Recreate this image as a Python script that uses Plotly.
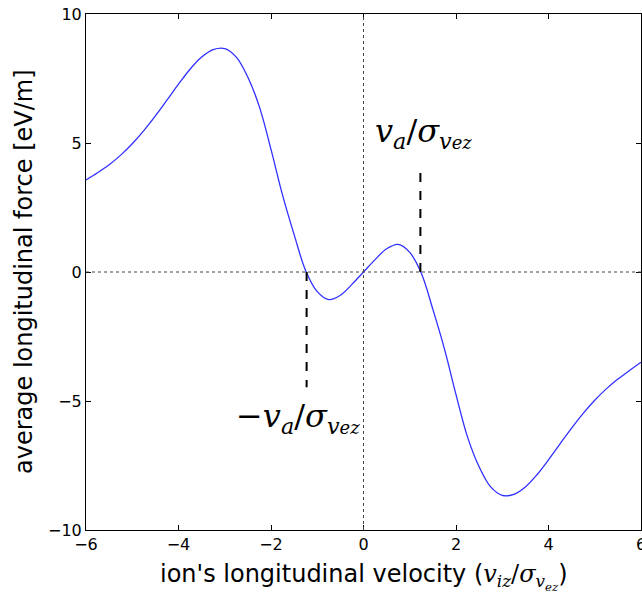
import plotly.graph_objects as go

# ion velocity (v_iz / sigma_vez)
velocity = [-6.0, -5.75, -5.5, -5.25, -5.0, -4.75, -4.5, -4.25, -4.0, -3.75, -3.5, -3.25,
            -3.0, -2.75, -2.5, -2.25, -2.0, -1.75, -1.5, -1.25, -1.0, -0.75, -0.5, -0.25,
            0.0, 0.25, 0.5, 0.75, 1.0, 1.25, 1.5, 1.75, 2.0, 2.25, 2.5, 2.75,
            3.0, 3.25, 3.5, 3.75, 4.0, 4.25, 4.5, 4.75, 5.0, 5.25, 5.5, 5.75, 6.0]
# average longitudinal force [eV/m]
force = [3.57, 3.85, 4.16, 4.53, 4.97, 5.48, 6.05, 6.66, 7.28, 7.86, 8.33, 8.62,
         8.66, 8.33, 7.55, 6.40, 4.75, 2.98, 1.45, 0.05, -0.76, -1.07, -0.90, -0.48,
         0.0, 0.48, 0.90, 1.07, 0.76, -0.05, -1.45, -2.98, -4.75, -6.40, -7.55, -8.33,
         -8.66, -8.62, -8.33, -7.86, -7.28, -6.66, -6.05, -5.48, -4.97, -4.53, -4.15, -3.82, -3.50]

va = 1.23            # zero crossing v_a / sigma
marker_top = 4.0     # dashed marker upper end (right)
marker_bottom = -4.47

x_ticks = [-6, -4, -2, 0, 2, 4, 6]
y_ticks = [-10, -5, 0, 5, 10]

fig = go.Figure()
fig.add_trace(go.Scatter(x=velocity, y=force, mode="lines",
                         line=dict(color="#3030ff", width=1.3, shape="spline", smoothing=1),
                         showlegend=False, hoverinfo="skip"))

# dotted zero lines
fig.add_shape(type="line", xref="x", yref="y", x0=-6, x1=6, y0=0, y1=0,
              line=dict(color="#444", width=1, dash="dot"))
fig.add_shape(type="line", xref="x", yref="y", x0=0, x1=0, y0=-10, y1=10,
              line=dict(color="#444", width=1, dash="dot"))
# dashed markers
fig.add_shape(type="line", xref="x", yref="y", x0=va, x1=va, y0=0, y1=marker_top,
              line=dict(color="black", width=2, dash="dash"))
fig.add_shape(type="line", xref="x", yref="y", x0=-va, x1=-va, y0=0, y1=marker_bottom,
              line=dict(color="black", width=2, dash="dash"))

mathfont = "DejaVu Serif"
label = ("<i>v</i><sub><i>a</i></sub>/<i>σ</i><sub><i>v</i>"
         "<span style='font-size:18px'><i>ez</i></span></sub>")
fig.add_annotation(x=va, y=marker_top, xref="x", yref="y", showarrow=False, yanchor="bottom",
                   xanchor="center", yshift=13, xshift=3,
                   text=label, font=dict(family=mathfont, size=32, color="black"))
fig.add_annotation(x=-va, y=marker_bottom, xref="x", yref="y", showarrow=False, yanchor="top",
                   xanchor="center", yshift=-8, xshift=-9,
                   text="−" + label, font=dict(family=mathfont, size=32, color="black"))

# axis titles
xtitle = ("ion's longitudinal velocity (<span style='font-family:DejaVu Serif'><i>v</i>"
          "<sub><i>iz</i></sub>/<i>σ</i><sub><i>v</i><sub><i>ez</i></sub></sub></span>)")
fig.add_annotation(x=0.5, y=0, xref="paper", yref="paper", showarrow=False, yshift=-47,
                   xanchor="center", yanchor="middle", text=xtitle,
                   font=dict(family="DejaVu Sans", size=24, color="black"))
fig.add_annotation(x=0, y=0.5, xref="paper", yref="paper", showarrow=False, xshift=-62,
                   xanchor="center", yanchor="middle", textangle=-90,
                   text="average longitudinal force [eV/m]",
                   font=dict(family="DejaVu Sans", size=24, color="black"))

axis_common = dict(showgrid=False, zeroline=False, ticks="inside", ticklen=5, tickwidth=1,
                   tickcolor="black", showline=True, linecolor="black", linewidth=1,
                   mirror="allticks", ticklabeloverflow="allow", automargin=False,
                   tickfont=dict(family="DejaVu Sans", size=16, color="black"))
fig.update_xaxes(range=[-6, 6], tickvals=x_ticks, ticktext=[str(t).replace("-", "−") for t in x_ticks],
                 **axis_common)
fig.update_yaxes(range=[-10, 10], tickvals=y_ticks, ticktext=[str(t).replace("-", "−") for t in y_ticks],
                 **axis_common)

fig.update_layout(width=642, height=597, autosize=False, margin=dict(l=86, r=1, t=14, b=67),
                  plot_bgcolor="white", paper_bgcolor="white")
# remove the default page margin so the figure fills the window exactly
fig.write_html("out.html",
               config={"displayModeBar": False, "responsive": False},
               post_script="document.body.style.margin='0';"
                           "document.body.style.overflow='hidden';"
                           "document.documentElement.style.overflow='hidden';")
